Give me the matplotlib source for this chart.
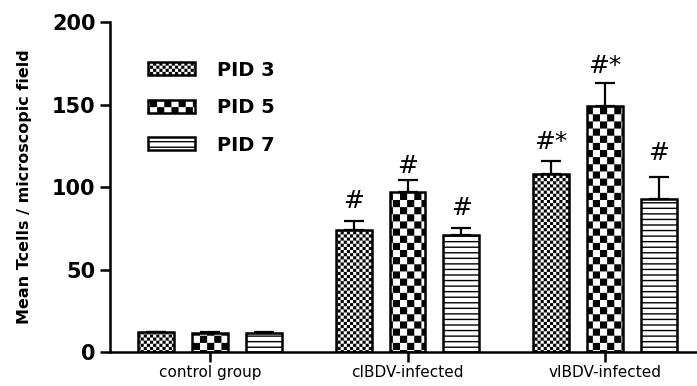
import numpy as np
import matplotlib
matplotlib.use("Agg")
import matplotlib.pyplot as plt
import matplotlib.hatch as mhatch

# ---- data -------------------------------------------------------------
groups = ["control group", "cIBDV-infected", "vIBDV-infected"]
series = ["PID 3", "PID 5", "PID 7"]
pid3_mean = [12.0, 74.0, 108.0]
pid3_sem = [0.4, 5.5, 8.0]
pid5_mean = [11.6, 97.0, 149.0]
pid5_sem = [0.6, 7.0, 14.0]
pid7_mean = [11.4, 71.0, 93.0]
pid7_sem = [0.6, 4.0, 13.0]
pid3_marks = ["", "#", "#*"]
pid5_marks = ["", "#", "#*"]
pid7_marks = ["", "#", "#"]
y_ticks = [0, 50, 100, 150, 200]


# ---- checkerboard hatch patterns ---------------------------------------
plt.rcParams["hatch.linewidth"] = 1.0
plt.rcParams["hatch.color"] = "black"


class _CheckerHatch(mhatch.HatchPatternBase):
    char = "."
    cells = 32

    def __init__(self, hatch, density):
        self.active = hatch.count(self.char) > 0
        self.num_vertices = (self.cells * self.cells // 2) * 5 if self.active else 0

    def set_vertices_and_codes(self, vertices, codes):
        step = 1.0 / self.cells
        inset = 0.5 * plt.rcParams["hatch.linewidth"] / 72.0
        k = 0
        for i in range(self.cells):
            for j in range(self.cells):
                if (i + j) % 2:
                    continue
                x0, x1 = i * step + inset, (i + 1) * step - inset
                y0, y1 = j * step + inset, (j + 1) * step - inset
                vertices[k:k + 5] = [(x0, y0), (x1, y0), (x1, y1), (x0, y1), (x0, y0)]
                codes[k] = mhatch.Path.MOVETO
                codes[k + 1:k + 4] = mhatch.Path.LINETO
                codes[k + 4] = mhatch.Path.CLOSEPOLY
                k += 5


class FineChecker(_CheckerHatch):
    char = "."
    cells = 32


class CoarseChecker(_CheckerHatch):
    char = "o"
    cells = 14


mhatch._hatch_types = [mhatch.HorizontalHatch, FineChecker, CoarseChecker]

# ---- figure -------------------------------------------------------------
plt.rcParams["font.family"] = ["DejaVu Sans"]
fig = plt.figure(figsize=(6.97, 3.86), dpi=100)
ax = fig.add_axes([0.158, 0.088, 0.842, 0.855])

x = np.arange(len(groups))
offset = 0.273
width = 0.182
hatches = [".", "o", "---"]
means = [pid3_mean, pid5_mean, pid7_mean]
sems = [pid3_sem, pid5_sem, pid7_sem]
marks = [pid3_marks, pid5_marks, pid7_marks]
mark_gap = [[0, 13, 12], [0, 7, 10], [0, 13, 17]]  # pixels above the error cap

for k, (name, m, s, h) in enumerate(zip(series, means, sems, hatches)):
    xs = x + (k - 1) * offset
    ax.bar(xs, m, width, color="white", edgecolor="black", linewidth=1.8,
           hatch=h, label=name, zorder=2,
           yerr=[np.zeros(len(s)), s],
           error_kw=dict(ecolor="black", elinewidth=1.6, capsize=7,
                         capthick=1.6, zorder=3))
    for xi, mi, si, txt, gap in zip(xs, m, s, marks[k], mark_gap[k]):
        if txt:
            ax.annotate(txt, (xi, mi + si), xytext=(0, gap * 0.72),
                        textcoords="offset points", ha="center",
                        va="baseline", fontsize=18)

ax.set_xlim(-0.506, 2.466)
ax.set_ylim(0, 200)
ax.set_yticks(y_ticks)
ax.set_yticklabels([str(t) for t in y_ticks], fontsize=15, fontweight="bold")
ax.set_xticks(x)
ax.set_xticklabels(groups, fontsize=11)
ax.tick_params(axis="both", direction="out", length=7.5, width=1.8, pad=2)
ax.tick_params(axis="y", pad=3)

for side in ("top", "right"):
    ax.spines[side].set_visible(False)
for side in ("left", "bottom"):
    ax.spines[side].set_linewidth(1.8)

ax.set_ylabel("Mean Tcells / microscopic field", fontsize=11.5,
              fontweight="bold", labelpad=14)

ax.legend(loc="upper left", bbox_to_anchor=(0.0647, 0.883), frameon=False,
          borderpad=0, borderaxespad=0, handlelength=2.42, handleheight=0.67,
          handletextpad=1.1, labelspacing=0.95,
          prop=dict(size=14, weight="bold"))

fig.savefig("out.png", dpi=100)
